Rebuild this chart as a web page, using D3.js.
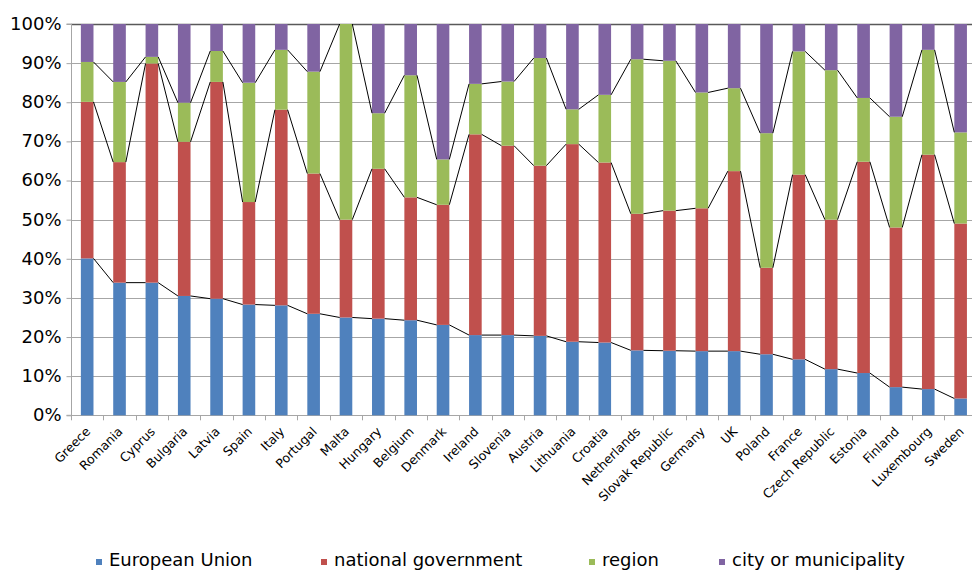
<!DOCTYPE html>
<html><head><meta charset="utf-8">
<script src="https://cdn.jsdelivr.net/npm/d3@7"></script>
<style>body{margin:0;background:#fff;}svg{display:block;}</style>
</head><body>
<svg id="chart" width="972" height="571"></svg>
<script>
const countries = ["Greece","Romania","Cyprus","Bulgaria","Latvia","Spain","Italy","Portugal","Malta","Hungary","Belgium","Denmark","Ireland","Slovenia","Austria","Lithuania","Croatia","Netherlands","Slovak Republic","Germany","UK","Poland","France","Czech Republic","Estonia","Finland","Luxembourg","Sweden"];
const europeanUnion = [40.1,33.9,33.9,30.5,29.8,28.3,28.1,26.2,25.0,24.7,24.3,23.1,20.5,20.5,20.3,18.8,18.6,16.6,16.5,16.4,16.4,15.6,14.3,11.8,10.8,7.2,6.7,4.3];
const nationalGovernment = [40.0,30.8,56.0,39.4,55.4,26.2,50.0,36.2,25.0,38.3,31.4,30.7,51.3,48.4,43.5,50.5,46.0,34.9,35.8,36.5,46.0,22.1,47.2,38.2,54.0,40.8,59.9,44.7];
const region = [10.2,20.5,1.7,10.0,7.9,30.5,15.3,26.3,50.0,14.2,31.2,11.6,12.9,16.4,27.5,8.9,17.3,39.5,38.3,29.6,21.2,34.4,31.5,38.2,16.3,28.3,26.8,23.3];
const cityOrMunicipality = [9.7,14.8,8.4,20.1,6.9,15.0,6.6,12.3,0.0,22.8,13.1,34.6,15.3,14.7,8.7,21.8,18.1,9.0,9.4,17.5,16.4,27.9,7.0,11.8,18.9,23.7,6.6,27.7];
const seriesNames = ["European Union","national government","region","city or municipality"];
const seriesColors = ["#4F81BD","#C0504D","#9BBB59","#8064A2"];
const yTicks = [0,10,20,30,40,50,60,70,80,90,100];

const svg = d3.select("#chart");
const FONT = "'DejaVu Sans', sans-serif";

const seriesValues = [europeanUnion, nationalGovernment, region, cityOrMunicipality];
const rows = countries.map((c,i)=>{
  const o = {country:c};
  seriesNames.forEach((s,k)=>o[s]=seriesValues[k][i]);
  return o;
});
const stacked = d3.stack().keys(seriesNames).offset(d3.stackOffsetExpand)(rows);

const left = 71, step = 32.35;
const x = d3.scaleBand().domain(countries).range([left, left + step*countries.length]).paddingInner(0.61).paddingOuter(0.305);
const y = d3.scaleLinear().domain([0,100]).range([415.3, 24]);

// gridlines
svg.append("g").selectAll("line").data(yTicks.filter(t=>t>0)).join("line")
  .attr("x1", left).attr("x2", 980)
  .attr("y1", d=>Math.round(y(d))+0.5).attr("y2", d=>Math.round(y(d))+0.5)
  .attr("stroke", d=>d===100?"#595959":"#a6a6a6").attr("stroke-width", d=>d===100?1.5:1);

// y axis
const yAxis = d3.axisLeft(y).tickValues(yTicks).tickSize(5).tickFormat(d=>d+"%");
const gy = svg.append("g").attr("transform",`translate(${left+0.5},0)`).call(yAxis);
gy.select(".domain").attr("stroke","#a6a6a6").attr("d",`M-5,${y(0)}H0V${y(100)}H-5`);
gy.selectAll(".tick line").attr("stroke","#a6a6a6");
gy.selectAll(".tick text").attr("font-family",FONT).attr("font-size",18).attr("fill","#000").attr("x",-10).attr("dy","0.3em");

// x axis line and ticks
const gx = svg.append("g");
gx.append("line").attr("x1",left).attr("x2",980).attr("y1",Math.round(y(0))+0.5).attr("y2",Math.round(y(0))+0.5).attr("stroke","#a6a6a6");
gx.selectAll("line.t").data(countries).join("line").attr("class","t")
  .attr("x1",d=>Math.round(x(d)-x.step()*x.paddingInner()/2)+0.5)
  .attr("x2",d=>Math.round(x(d)-x.step()*x.paddingInner()/2)+0.5)
  .attr("y1",y(0)).attr("y2",y(0)+5).attr("stroke","#a6a6a6");
gx.selectAll("text").data(countries).join("text")
  .attr("transform",d=>`translate(${x(d)+x.bandwidth()/2+4},${y(0)+17}) rotate(-45)`)
  .attr("text-anchor","end").attr("font-family",FONT).attr("font-size",12.5).attr("fill","#000")
  .text(d=>d);

// bars
const bars = svg.append("g");
stacked.forEach((layer,k)=>{
  bars.append("g").attr("fill",seriesColors[k]).selectAll("rect").data(layer).join("rect")
    .attr("x",d=>x(d.data.country)).attr("width",x.bandwidth())
    .attr("y",d=>y(d[1]*100)).attr("height",d=>y(d[0]*100)-y(d[1]*100));
});

// series lines
const lines = svg.append("g").attr("fill","none").attr("stroke","#000").attr("stroke-width",1);
stacked.slice(0,3).forEach(layer=>{
  for(let i=0;i<layer.length-1;i++){
    const a = layer[i], b = layer[i+1];
    lines.append("line")
      .attr("x1",x(a.data.country)+x.bandwidth()).attr("y1",y(a[1]*100))
      .attr("x2",x(b.data.country)).attr("y2",y(b[1]*100));
  }
});

// legend
const legendX = [96, 321, 589, 719];
const lg = svg.append("g");
seriesNames.forEach((s,k)=>{
  lg.append("rect").attr("x",legendX[k]).attr("y",559).attr("width",6).attr("height",6).attr("fill",seriesColors[k]);
  lg.append("text").attr("x",legendX[k]+13).attr("y",566).attr("font-family",FONT).attr("font-size",18).attr("fill","#000").text(s);
});
</script>
</body></html>
